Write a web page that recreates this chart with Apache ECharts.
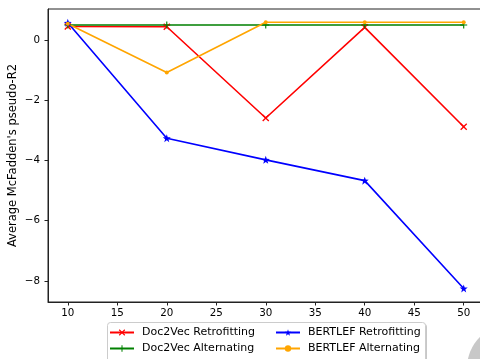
<!DOCTYPE html>
<html>
<head>
<meta charset="utf-8">
<script src="https://cdn.jsdelivr.net/npm/echarts@6/dist/echarts.min.js"></script>
<style>
  html, body { margin: 0; padding: 0; background: #fff; overflow: hidden; }
  #chart { width: 484px; height: 359px; }
</style>
</head>
<body>
<div id="chart"></div>
<script>
// Number of topics / epochs on the x axis
const xValues = [10, 20, 30, 40, 50];

// Average McFadden's pseudo-R2 per setting
const doc2vecRetrofitting = [0.45, 0.44, -2.59, 0.42, -2.88];
const doc2vecAlternating  = [0.50, 0.50, 0.50, 0.50, 0.50];
const bertlefRetrofitting = [0.57, -3.26, -3.98, -4.67, -8.25];
const bertlefAlternating  = [0.54, -1.08, 0.59, 0.59, 0.59];

// Axis ticks
const xTicks = [10, 15, 20, 25, 30, 35, 40, 45, 50];
const yTicks = [-8, -6, -4, -2, 0];

const FONT = 'DejaVu Sans';

// Marker shapes in the style of matplotlib's 'x', '+', '*' and '.'
const SYM_X = 'path://M0,1.3L1.3,0L5,3.7L8.7,0L10,1.3L6.3,5L10,8.7L8.7,10L5,6.3L1.3,10L0,8.7L3.7,5Z';
const SYM_PLUS = 'path://M4.2,0H5.8V4.2H10V5.8H5.8V10H4.2V5.8H0V4.2H4.2Z';
const SYM_STAR = 'path://M5,0L6.2,3.4L9.8,3.5L7,5.7L8,9.2L5,7.1L2,9.2L3,5.7L0.2,3.5L3.8,3.4Z';

function pairs(ys) { return xValues.map((x, i) => [x, ys[i]]); }
function minus(v) { return String(v).replace('-', '\u2212'); }

function lineSeries(name, ys, color, symbol, size) {
  return {
    name: name,
    type: 'line',
    data: pairs(ys),
    symbol: symbol,
    symbolSize: size,
    showAllSymbol: true,
    lineStyle: { color: color, width: 1.6 },
    itemStyle: { color: color, borderWidth: 0 },
    emphasis: { disabled: true },
    animation: false
  };
}

const legendCommon = {
  orient: 'vertical',
  padding: 0,
  itemWidth: 24,
  itemHeight: 8,
  itemGap: 3,
  selectedMode: false,
  textStyle: { fontFamily: FONT, fontSize: 11, color: '#000', lineHeight: 13, padding: [0, 0, 0, 3] }
};

const chart = echarts.init(document.getElementById('chart'), null, { renderer: 'canvas' });
chart.setOption({
  backgroundColor: '#fff',
  animation: false,
  grid: {
    left: 48, top: 9, bottom: 57, right: 0.5,
    containLabel: false,
    outerBoundsMode: 'none',
    show: true, borderColor: '#222', borderWidth: 1, backgroundColor: 'transparent'
  },
  xAxis: {
    type: 'value',
    min: 8, max: 52,
    splitLine: { show: false },
    axisLine: { show: true, onZero: false, lineStyle: { color: '#222', width: 1 } },
    axisTick: { show: true, length: 3.5, lineStyle: { color: '#222' }, customValues: xTicks },
    axisLabel: { customValues: xTicks, margin: 6, color: '#000', fontFamily: FONT, fontSize: 10.3 }
  },
  yAxis: {
    type: 'value',
    min: -8.70, max: 1.03,
    name: "Average McFadden's pseudo-R2",
    nameLocation: 'middle',
    nameGap: 28.5,
    nameMoveOverlap: false,
    nameTextStyle: { fontFamily: FONT, fontSize: 11.5, color: '#000' },
    splitLine: { show: false },
    axisLine: { show: true, onZero: false, lineStyle: { color: '#222', width: 1 } },
    axisTick: { show: true, length: 3.5, lineStyle: { color: '#222' }, customValues: yTicks },
    axisLabel: { customValues: yTicks, margin: 8, color: '#000', fontFamily: FONT, fontSize: 10.3, formatter: minus }
  },
  legend: [
    Object.assign({}, legendCommon, { left: 109, top: 326, data: ['Doc2Vec Retrofitting', 'Doc2Vec Alternating'] }),
    Object.assign({}, legendCommon, { left: 275, top: 326, data: ['BERTLEF Retrofitting', 'BERTLEF Alternating'] })
  ],
  graphic: [
    // legend frame with drop shadow
    { type: 'rect', left: 109, top: 324, z: 0, shape: { width: 318, height: 50, r: 3 }, style: { fill: 'rgba(0,0,0,0.22)' } },
    { type: 'rect', left: 107, top: 322, z: 1, shape: { width: 318, height: 50, r: 3 }, style: { fill: '#fff', stroke: '#ccc', lineWidth: 1 } },
    // corner decoration
    { type: 'circle', shape: { cx: 511, cy: 368, r: 44 }, style: { fill: '#c8c8c8' }, z: 1 }
  ],
  series: [
    lineSeries('Doc2Vec Retrofitting', doc2vecRetrofitting, '#ff0000', SYM_X, 7),
    lineSeries('Doc2Vec Alternating', doc2vecAlternating, '#008000', SYM_PLUS, 7),
    lineSeries('BERTLEF Retrofitting', bertlefRetrofitting, '#0000ff', SYM_STAR, 8),
    lineSeries('BERTLEF Alternating', bertlefAlternating, '#ffa500', 'circle', 4)
  ]
});
</script>
</body>
</html>
